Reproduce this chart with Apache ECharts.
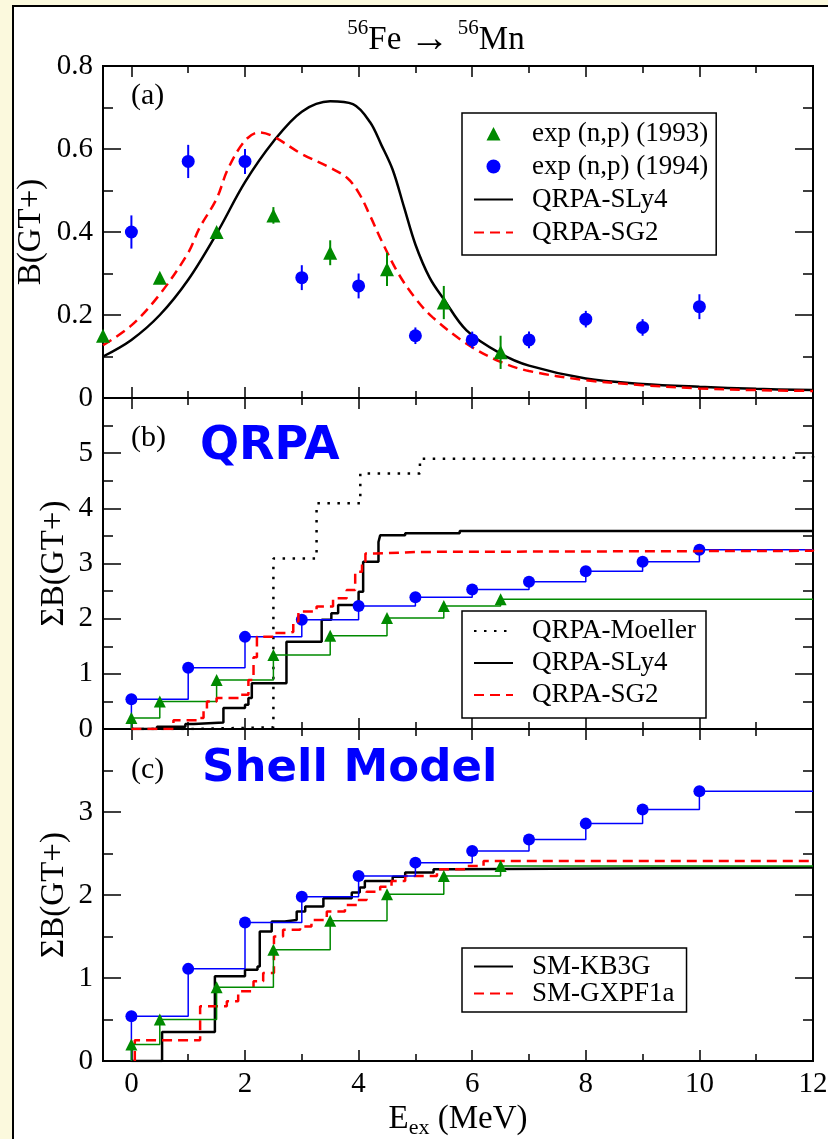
<!DOCTYPE html>
<html>
<head>
<meta charset="utf-8">
<script src="https://cdn.jsdelivr.net/npm/echarts@6/dist/echarts.min.js"></script>
<style>
  html, body { margin: 0; padding: 0; background: #fbf9dd; }
  #sheet { position: absolute; left: 12px; top: 5px; width: 816px; height: 1134px;
           background: #fff; border-left: 2px solid #000; border-top: 2px solid #000; box-sizing: border-box; }
  #chart { position: absolute; left: 0; top: 0; width: 828px; height: 1139px; }
</style>
</head>
<body>
<div id="sheet"></div>
<div id="chart"></div>
<script>
const FONT = '"Liberation Serif","Times New Roman",serif';
const GREEN = '#008a00', BLUE = '#0000ff', RED = '#ff0000', BLACK = '#000000';

// energy axis ticks (MeV)
const xMajorTicks = [0, 2, 4, 6, 8, 10, 12];
const xMinorTicks = [1, 3, 5, 7, 9, 11];

// (a) measured B(GT+) per bin, with errors
const exp1993E = [-0.5, 0.5, 1.5, 2.5, 3.5, 4.5, 5.5, 6.5];
const exp1993B = [0.15, 0.29, 0.40, 0.44, 0.35, 0.31, 0.23, 0.11];
const exp1993Err = [0.01, 0.01, 0.01, 0.02, 0.03, 0.04, 0.04, 0.04];
const exp1994E = [0, 1, 2, 3, 4, 5, 6, 7, 8, 9, 10];
const exp1994B = [0.40, 0.57, 0.57, 0.29, 0.27, 0.15, 0.14, 0.14, 0.19, 0.17, 0.22];
const exp1994Err = [0.04, 0.04, 0.03, 0.03, 0.03, 0.02, 0.02, 0.02, 0.02, 0.02, 0.03];

// (a) folded QRPA strength distributions
const sly4E = [-0.5, 0, 0.5, 1.0, 1.5, 2.0, 2.5, 3.0, 3.5, 3.9, 4.2, 4.4, 4.6, 4.8, 5.0, 5.25, 5.5, 5.9, 6.5, 7.0, 8.0, 9.0, 10, 11, 12];
const sly4B = [0.100, 0.140, 0.200, 0.285, 0.396, 0.520, 0.618, 0.690, 0.715, 0.708, 0.665, 0.610, 0.550, 0.460, 0.370, 0.290, 0.238, 0.163, 0.107, 0.078, 0.047, 0.034, 0.027, 0.022, 0.019];
const sg2E = [-0.5, 0, 0.5, 1.0, 1.2, 1.5, 1.7, 2.0, 2.25, 2.5, 3.0, 3.5, 3.8, 4.0, 4.2, 4.4, 4.7, 5.0, 5.3, 5.9, 6.5, 7.0, 8.0, 9.0, 10, 11, 12];
const sg2B = [0.127, 0.175, 0.250, 0.350, 0.410, 0.480, 0.552, 0.620, 0.640, 0.630, 0.588, 0.555, 0.530, 0.495, 0.440, 0.380, 0.300, 0.240, 0.195, 0.131, 0.087, 0.065, 0.043, 0.031, 0.023, 0.019, 0.017];

// (b), (c) running sums of the measured strength
const sum1993E = [0, 0.5, 1.5, 2.5, 3.5, 4.5, 5.5, 6.5];
const sum1993 = [0.20, 0.50, 0.89, 1.34, 1.69, 2.01, 2.23, 2.35];
const sum1994E = [0, 1, 2, 3, 4, 5, 6, 7, 8, 9, 10];
const sum1994 = [0.54, 1.11, 1.67, 1.98, 2.23, 2.39, 2.53, 2.67, 2.86, 3.03, 3.25];

// (b) QRPA running sums
const moellerSumE = [0, 1.0, 2.50, 3.26, 4.03, 5.08, 8.0, 12];
const moellerSum = [0, 0.03, 3.09, 4.09, 4.63, 4.90, 4.92, 4.95];
const sly4SumE = [0, 0.45, 0.95, 1.10, 1.62, 2.00, 2.06, 2.12, 2.73, 3.35, 3.52, 3.64, 3.91, 4.00, 4.08, 4.35, 4.38, 4.82, 5.78, 12];
const sly4Sum = [0, 0.04, 0.09, 0.12, 0.38, 0.44, 0.56, 0.83, 1.58, 1.98, 2.10, 2.25, 2.28, 2.49, 3.03, 3.39, 3.51, 3.55, 3.59, 3.59];
const sg2SumE = [0, 0.74, 1.21, 1.27, 1.33, 1.50, 1.91, 2.06, 2.15, 2.21, 2.50, 2.76, 2.85, 2.94, 3.26, 3.55, 3.79, 3.94, 4.06, 4.12, 4.29, 5.05, 12];
const sg2Sum = [0, 0.16, 0.20, 0.35, 0.50, 0.56, 0.62, 0.89, 1.30, 1.67, 1.74, 1.76, 1.95, 2.13, 2.22, 2.37, 2.52, 2.85, 3.03, 3.18, 3.21, 3.23, 3.25];

// (c) shell-model running sums
const kb3gSumE = [0, 0.54, 1.47, 2.00, 2.22, 2.26, 2.47, 2.70, 2.91, 3.06, 3.38, 3.88, 4.02, 4.11, 4.60, 4.82, 5.32, 5.60, 12];
const kb3gSum = [0, 0.35, 1.02, 1.10, 1.14, 1.56, 1.68, 1.70, 1.80, 1.86, 1.96, 2.03, 2.09, 2.17, 2.22, 2.27, 2.31, 2.33, 2.33];
const gxpfSumE = [0.06, 0.06, 1.21, 1.68, 1.88, 2.15, 2.32, 2.51, 2.67, 2.97, 3.17, 3.44, 3.76, 3.97, 4.14, 4.38, 4.58, 4.82, 5.38, 5.90, 6.20, 12];
const gxpfSum = [0, 0.25, 0.66, 0.72, 0.84, 0.96, 1.06, 1.50, 1.58, 1.62, 1.70, 1.80, 1.88, 1.94, 2.04, 2.10, 2.17, 2.23, 2.31, 2.35, 2.41, 2.41];

const zip = (xs, ys) => xs.map((x, i) => [x, ys[i]]);

const grids = [
  { left: 103, top: 66, width: 710, height: 332 },
  { left: 103, top: 398, width: 710, height: 331 },
  { left: 103, top: 729, width: 710, height: 332 }
].map(g => Object.assign(g, { show: true, borderColor: BLACK, borderWidth: 2, backgroundColor: 'transparent', containLabel: false, outerBoundsMode: 'none' }));

const tickLine = { color: BLACK, width: 1.5 };
const noLine = { show: false, onZero: false };

// four energy axes per panel: bottom/top, major/minor ticks
function energyAxes(g, withLabels) {
  const base = { type: 'value', gridIndex: g, min: -0.5, max: 12, splitLine: { show: false }, axisLine: noLine, nameMoveOverlap: false };
  const major = { inside: true, length: 11, customValues: xMajorTicks, lineStyle: tickLine };
  const minor = { inside: true, length: 7, customValues: xMinorTicks, lineStyle: tickLine };
  const first = Object.assign({}, base, {
    position: 'bottom', axisTick: major,
    axisLabel: { show: withLabels, customValues: xMajorTicks, fontFamily: FONT, fontSize: 29, color: BLACK, margin: 9 }
  });
  if (withLabels) {
    Object.assign(first, {
      name: '{m|E}{s|ex}{m| (MeV)}', nameLocation: 'middle', nameGap: 38,
      nameTextStyle: { rich: {
        m: { fontFamily: FONT, fontSize: 33, color: BLACK, lineHeight: 40 },
        s: { fontFamily: FONT, fontSize: 22, color: BLACK, lineHeight: 22, verticalAlign: 'bottom' }
      } }
    });
  }
  return [
    first,
    Object.assign({}, base, { position: 'bottom', axisTick: minor, axisLabel: { show: false } }),
    Object.assign({}, base, { position: 'top', axisTick: major, axisLabel: { show: false } }),
    Object.assign({}, base, { position: 'top', axisTick: minor, axisLabel: { show: false } })
  ];
}

// left (labelled) and right strength axes of one panel
function strengthAxes(g, max, interval, name, nameGap, fmt) {
  const base = {
    type: 'value', gridIndex: g, min: 0, max: max, interval: interval,
    splitLine: { show: false }, axisLine: noLine,
    axisTick: { inside: true, length: 18, lineStyle: tickLine },
    minorTick: { show: true, splitNumber: 2, length: 10, lineStyle: tickLine },
    nameMoveOverlap: false
  };
  return [
    Object.assign({}, base, {
      position: 'left',
      axisLabel: { fontFamily: FONT, fontSize: 29, color: BLACK, margin: 10, formatter: fmt },
      name: name, nameLocation: 'middle', nameRotate: 90, nameGap: nameGap,
      nameTextStyle: { fontFamily: FONT, fontSize: 33, color: BLACK }
    }),
    Object.assign({}, base, { position: 'right', axisLabel: { show: false } })
  ];
}

function errorBars(xs, ys, es, color, xi, yi) {
  return {
    type: 'custom', xAxisIndex: xi, yAxisIndex: yi, silent: true, z: 3,
    data: xs.map((x, i) => [x, ys[i] - es[i], ys[i] + es[i]]),
    encode: { x: 0, y: [1, 2] },
    renderItem(params, api) {
      const lo = api.coord([api.value(0), api.value(1)]);
      const hi = api.coord([api.value(0), api.value(2)]);
      return { type: 'line', shape: { x1: lo[0], y1: lo[1], x2: hi[0], y2: hi[1] }, style: { stroke: color, lineWidth: 2 } };
    }
  };
}

function points(name, xs, ys, symbol, size, color, xi, yi) {
  return { type: 'scatter', name, data: zip(xs, ys), symbol, symbolSize: size,
           itemStyle: { color, opacity: 1 }, xAxisIndex: xi, yAxisIndex: yi, z: 4, clip: false };
}

function curve(name, xs, ys, color, width, dash, xi, yi, z) {
  return { type: 'line', name, data: zip(xs, ys), smooth: 0.35, symbol: 'none',
           lineStyle: { color, width, type: dash || 'solid' }, itemStyle: { color },
           xAxisIndex: xi, yAxisIndex: yi, z: z || 2 };
}

function stairs(name, xs, ys, color, width, dash, xi, yi, z) {
  return { type: 'line', name, step: 'end', data: zip(xs, ys), symbol: 'none',
           lineStyle: { color, width, type: dash || 'solid', cap: 'butt' }, itemStyle: { color },
           xAxisIndex: xi, yAxisIndex: yi, z: z || 2 };
}

// measured running sum drawn as a staircase with markers at each bin
function measuredSum(name, xs, ys, symbol, size, color, xi, yi) {
  const data = [{ value: [xs[0], 0], symbol: 'none' }];
  xs.forEach((x, i) => data.push([x, ys[i]]));
  data.push({ value: [12, ys[ys.length - 1]], symbol: 'none' });
  return { type: 'line', name, step: 'end', data, symbol, symbolSize: size, showSymbol: true,
           lineStyle: { color, width: 1.5 }, itemStyle: { color, opacity: 1 }, xAxisIndex: xi, yAxisIndex: yi, z: 3 };
}

const legendBase = {
  orient: 'vertical', itemWidth: 39, itemHeight: 14, itemGap: 0, symbolKeepAspect: true,
  borderColor: BLACK, borderWidth: 1.5, borderRadius: 0, backgroundColor: '#fff',
  selectedMode: false, z: 10,
  textStyle: { fontFamily: FONT, fontSize: 27, color: BLACK, lineHeight: 33, padding: [0, 0, 0, 14] }
};
// legend icon: an upright triangle centred in the 39x14 icon box
const legendTriangle = 'path://M0,0L0.01,0L0,0.01Z M39,14L38.99,14L39,13.99Z M12.5,14L19.5,0.5L26.5,14Z';
// legend entry for a plain line: sample stroke only, no marker
const lineEntry = name => ({ name, itemStyle: { opacity: 0, color: 'transparent', borderWidth: 0 } });
const markEntry = (name, icon) => (icon ? { name, icon, itemStyle: { opacity: 1 } } : { name, itemStyle: { opacity: 1 } });

const dotted = [2.5, 7.5];
const dashed = [10, 6];

const option = {
  animation: false,
  backgroundColor: 'transparent',
  grid: grids,
  xAxis: [].concat(energyAxes(0, false), energyAxes(1, false), energyAxes(2, true)),
  yAxis: [].concat(
    strengthAxes(0, 0.8, 0.2, 'B(GT+)', 55, v => (v === 0 ? '0' : v.toFixed(1))),
    strengthAxes(1, 6, 1, 'ΣB(GT+)', 32, v => (v === 6 ? '' : String(v))),
    strengthAxes(2, 4, 1, 'ΣB(GT+)', 32, v => (v === 4 ? '' : String(v)))
  ),
  legend: [
    Object.assign({}, legendBase, { left: 462, top: 113, padding: [4, 8, 6, 11],
      data: [markEntry('exp (n,p) (1993)', legendTriangle), markEntry('exp (n,p) (1994)'), lineEntry('QRPA-SLy4'), lineEntry('QRPA-SG2')] }),
    Object.assign({}, legendBase, { left: 462, top: 611, padding: [4, 10, 7, 11],
      textStyle: Object.assign({}, legendBase.textStyle, { lineHeight: 32 }),
      data: [lineEntry('QRPA-Moeller'), lineEntry('QRPA-SLy4'), lineEntry('QRPA-SG2')] }),
    Object.assign({}, legendBase, { left: 462, top: 948, padding: [5, 12, 5, 11],
      textStyle: Object.assign({}, legendBase.textStyle, { lineHeight: 27 }),
      data: [lineEntry('SM-KB3G'), lineEntry('SM-GXPF1a')] })
  ],
  graphic: [
    { type: 'text', x: 436, y: 18, silent: true, style: {
        text: '{s|56}{m|Fe }{a|→}{m| }{s|56}{m|Mn}', align: 'center', verticalAlign: 'top',
        rich: {
          m: { fontFamily: FONT, fontSize: 33, fill: BLACK, lineHeight: 44 },
          a: { fontFamily: FONT, fontSize: 40, fill: BLACK, lineHeight: 44 },
          s: { fontFamily: FONT, fontSize: 21, fill: BLACK, lineHeight: 21, verticalAlign: 'top' }
        } } },
    { type: 'text', x: 131, y: 96, silent: true, style: { text: '(a)', font: '30px ' + FONT, fill: BLACK, align: 'left', verticalAlign: 'middle' } },
    { type: 'text', x: 131, y: 438, silent: true, style: { text: '(b)', font: '30px ' + FONT, fill: BLACK, align: 'left', verticalAlign: 'middle' } },
    { type: 'text', x: 131, y: 770, silent: true, style: { text: '(c)', font: '30px ' + FONT, fill: BLACK, align: 'left', verticalAlign: 'middle' } },
    { type: 'text', x: 200, y: 447, silent: true, style: { text: 'QRPA', font: 'bold 46px "DejaVu Sans", sans-serif', fill: BLUE, align: 'left', verticalAlign: 'middle' } },
    { type: 'text', x: 202, y: 769, silent: true, style: { text: 'Shell Model', font: 'bold 45px "DejaVu Sans", sans-serif', fill: BLUE, align: 'left', verticalAlign: 'middle' } }
  ],
  series: [
    // (a)
    errorBars(exp1993E, exp1993B, exp1993Err, GREEN, 0, 0),
    errorBars(exp1994E, exp1994B, exp1994Err, BLUE, 0, 0),
    points('exp (n,p) (1993)', exp1993E, exp1993B, 'triangle', 14, GREEN, 0, 0),
    points('exp (n,p) (1994)', exp1994E, exp1994B, 'circle', 13, BLUE, 0, 0),
    curve('QRPA-SLy4', sly4E, sly4B, BLACK, 2.5, null, 0, 0),
    curve('QRPA-SG2', sg2E, sg2B, RED, 2.5, dashed, 0, 0),
    // (b)
    measuredSum('ΣB 1994 (b)', sum1994E, sum1994, 'circle', 12, BLUE, 4, 2),
    measuredSum('ΣB 1993 (b)', sum1993E, sum1993, 'triangle', 12, GREEN, 4, 2),
    stairs('QRPA-Moeller', moellerSumE, moellerSum, BLACK, 2.5, dotted, 4, 2),
    stairs('QRPA-SLy4', sly4SumE, sly4Sum, BLACK, 2.5, null, 4, 2),
    stairs('QRPA-SG2', sg2SumE, sg2Sum, RED, 2.5, dashed, 4, 2, 4),
    // (c)
    measuredSum('ΣB 1994 (c)', sum1994E, sum1994, 'circle', 12, BLUE, 8, 4),
    measuredSum('ΣB 1993 (c)', sum1993E, sum1993, 'triangle', 12, GREEN, 8, 4),
    stairs('SM-KB3G', kb3gSumE, kb3gSum, BLACK, 2.5, null, 8, 4),
    stairs('SM-GXPF1a', gxpfSumE, gxpfSum, RED, 2.5, dashed, 8, 4)
  ]
};

const chart = echarts.init(document.getElementById('chart'), null, { renderer: 'canvas' });
chart.setOption(option);
</script>
</body>
</html>
